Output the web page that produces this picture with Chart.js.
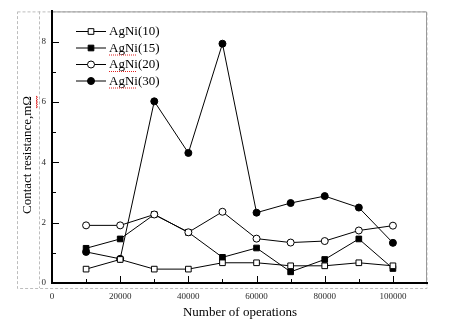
<!DOCTYPE html>
<html>
<head>
<meta charset="utf-8">
<script src="https://cdn.jsdelivr.net/npm/chart.js@4.4.1/dist/chart.umd.min.js"></script>
<style>
  html, body { margin: 0; padding: 0; background: #fff; }
  #wrap { width: 450px; height: 330px; }
</style>
</head>
<body>
<div id="wrap"><canvas id="resChart" width="450" height="330"></canvas></div>
<script>
// number of switching operations
const operations = [10000, 20000, 30000, 40000, 50000, 60000, 70000, 80000, 90000, 100000];
// contact resistance, mOhm
const agni10 = [0.46, 0.78, 0.46, 0.46, 0.67, 0.67, 0.57, 0.57, 0.67, 0.57];
const agni15 = [1.15, 1.46, 2.27, 1.68, 0.85, 1.16, 0.37, 0.78, 1.46, 0.48];
const agni20 = [1.91, 1.91, 2.27, 1.68, 2.36, 1.47, 1.34, 1.39, 1.74, 1.90];
const agni30 = [1.03, 0.80, 6.02, 4.31, 7.93, 2.33, 2.65, 2.88, 2.50, 1.33];
const seriesNames = ['AgNi(10)', 'AgNi(15)', 'AgNi(20)', 'AgNi(30)'];

const xLabels = [0, 20000, 40000, 60000, 80000, 100000];
const yLabels = [0, 2, 4, 6, 8];

const SERIF = '"Liberation Serif", "Times New Roman", serif';

function toPoints(vals) {
    return vals.map(function(v, i) { return { x: operations[i], y: v }; });
}

function makeSet(label, vals, style, filled, order) {
    return {
        label: label,
        data: toPoints(vals),
        borderColor: '#000',
        borderWidth: 1,
        pointStyle: style,
        pointRadius: style === 'rect' ? 4 : 3.5,
        pointBorderColor: '#000',
        pointBorderWidth: 1,
        pointBackgroundColor: filled ? '#000' : '#fff',
        tension: 0,
        order: order
    };
}

// frame: dashed outer box, grey top/right plot edges
const framePlugin = {
    id: 'frame',
    beforeDraw(chart) {
        const c = chart.ctx;
        const a = chart.chartArea;
        c.save();
        c.fillStyle = '#fff';
        c.fillRect(0, 0, chart.width, chart.height);
        c.strokeStyle = '#bdbdbd';
        c.lineWidth = 1;
        c.setLineDash([3, 2]);
        c.strokeRect(17.5, a.top + 0.5, a.right - 17.5, 288 - a.top);
        c.beginPath();
        c.moveTo(39.5, a.top);
        c.lineTo(39.5, 288);
        c.stroke();
        c.setLineDash([]);
        c.strokeStyle = '#9a9a9a';
        c.beginPath();
        c.moveTo(a.left, a.top + 0.5);
        c.lineTo(a.right - 0.5, a.top + 0.5);
        c.lineTo(a.right - 0.5, a.bottom);
        c.stroke();
        c.restore();
    }
};

// inward tick marks, long ones where a label is printed
const ticksPlugin = {
    id: 'inTicks',
    afterDraw(chart) {
        const c = chart.ctx;
        const a = chart.chartArea;
        const xs = chart.scales.x, ys = chart.scales.y;
        c.save();
        c.strokeStyle = '#000';
        c.lineWidth = 1;
        c.beginPath();
        xs.ticks.forEach(function(t) {
            if (t.value <= 0 || t.value >= xs.max) return;
            const px = Math.round(xs.getPixelForValue(t.value)) + 0.5;
            const len = t.label !== '' ? 7 : 4;
            c.moveTo(px, a.bottom);
            c.lineTo(px, a.bottom - len);
        });
        ys.ticks.forEach(function(t) {
            if (t.value <= 0 || t.value >= ys.max) return;
            const py = Math.round(ys.getPixelForValue(t.value)) + 0.5;
            const len = t.label !== '' ? 7 : 4;
            c.moveTo(a.left, py);
            c.lineTo(a.left + len, py);
        });
        c.stroke();
        c.restore();
    }
};

// axis titles and the line+marker legend
const textPlugin = {
    id: 'texts',
    afterDraw(chart) {
        const c = chart.ctx;
        c.save();
        c.fillStyle = '#000';
        c.font = '13px ' + SERIF;
        c.textAlign = 'center';
        c.textBaseline = 'middle';
        c.fillText('Number of operations', 240, 313);

        c.save();
        c.translate(28, 155);
        c.rotate(-Math.PI / 2);
        c.fillText('Contact resistance,m\u03A9', 0, 0);
        const w = c.measureText('Contact resistance,m\u03A9').width;
        c.restore();

        // red wavy underline under the unit
        c.strokeStyle = '#e02020';
        c.lineWidth = 1;
        c.beginPath();
        const yTop = 155 - w / 2;
        for (let k = 0; k <= 10; k++) {
            const yy = yTop + k * 1.2;
            const xx = k % 2 === 0 ? 36 : 37.5;
            if (k === 0) c.moveTo(xx, yy); else c.lineTo(xx, yy);
        }
        c.stroke();

        // legend
        const rowsY = [31, 47.5, 64, 80.5];
        chart.data.datasets.forEach(function(ds, i) {
            const y = rowsY[i];
            c.strokeStyle = '#000';
            c.lineWidth = 1;
            c.beginPath();
            c.moveTo(76, y + 0.5);
            c.lineTo(106, y + 0.5);
            c.stroke();
            c.fillStyle = ds.pointBackgroundColor;
            c.beginPath();
            if (ds.pointStyle === 'rect') {
                const s = ds.pointRadius * Math.SQRT1_2;
                c.rect(91 - s, y + 0.5 - s, 2 * s, 2 * s);
            } else {
                c.arc(91, y + 0.5, ds.pointRadius, 0, Math.PI * 2);
            }
            c.fill();
            c.stroke();
            c.fillStyle = '#000';
            c.textAlign = 'left';
            c.fillText(seriesNames[i], 109, y + 1);
            if (i > 0) {
                c.strokeStyle = '#e02020';
                c.setLineDash([1, 1]);
                c.beginPath();
                c.moveTo(109, y + 7.5);
                c.lineTo(137, y + 7.5);
                c.stroke();
                c.setLineDash([]);
            }
        });
        c.restore();
    }
};

const ctx = document.getElementById('resChart').getContext('2d');
new Chart(ctx, {
    type: 'line',
    data: {
        datasets: [
            makeSet(seriesNames[0], agni10, 'rect', false, 0),
            makeSet(seriesNames[1], agni15, 'rect', true, 2),
            makeSet(seriesNames[2], agni20, 'circle', false, 1),
            makeSet(seriesNames[3], agni30, 'circle', true, 3)
        ]
    },
    options: {
        responsive: false,
        animation: false,
        layout: { padding: { top: 10, right: 23, left: 0, bottom: 0 } },
        plugins: {
            legend: { display: false },
            tooltip: { enabled: false }
        },
        scales: {
            x: {
                type: 'linear',
                min: 0,
                max: 110000,
                afterFit(scale) { scale.height = 47; },
                grid: { display: false, drawTicks: false },
                border: { display: true, color: '#000', width: 2 },
                ticks: {
                    stepSize: 10000,
                    autoSkip: false,
                    maxRotation: 0,
                    padding: 8,
                    color: '#2a2a2a',
                    font: { family: SERIF, size: 9 },
                    callback: function(v) { return xLabels.indexOf(v) >= 0 ? String(v) : ''; }
                }
            },
            y: {
                min: 0,
                max: 9,
                afterFit(scale) { scale.width = 52; },
                grid: { display: false, drawTicks: false },
                border: { display: true, color: '#000', width: 2 },
                ticks: {
                    stepSize: 1,
                    autoSkip: false,
                    padding: 6,
                    color: '#2a2a2a',
                    font: { family: SERIF, size: 9 },
                    callback: function(v) { return yLabels.indexOf(v) >= 0 ? String(v) : ''; }
                }
            }
        }
    },
    plugins: [framePlugin, ticksPlugin, textPlugin]
});
</script>
</body>
</html>
